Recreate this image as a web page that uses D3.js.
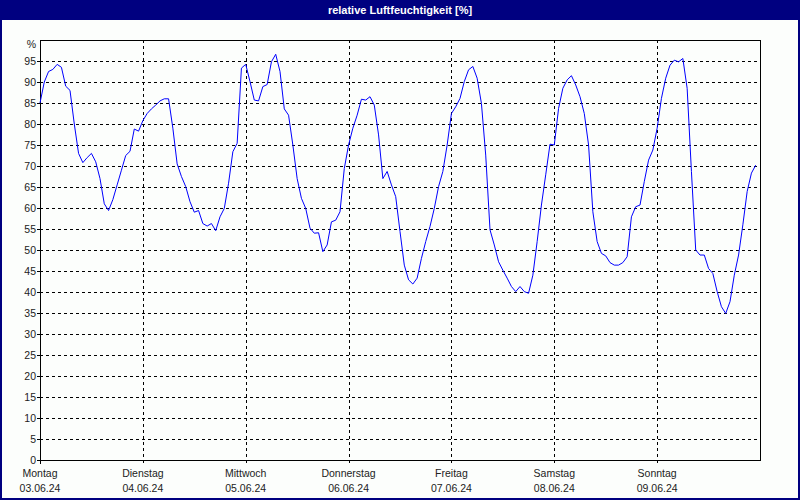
<!DOCTYPE html>
<html><head><meta charset="utf-8">
<script src="https://cdn.jsdelivr.net/npm/d3@7"></script>
<style>
html,body{margin:0;padding:0;background:#fff;}
svg{display:block;}
text{font-family:"Liberation Sans",Arial,sans-serif;}
</style></head>
<body>
<script>
const title = "relative Luftfeuchtigkeit [%]";
const dayNames = ["Montag","Dienstag","Mittwoch","Donnerstag","Freitag","Samstag","Sonntag"];
const dayDates = ["03.06.24","04.06.24","05.06.24","06.06.24","07.06.24","08.06.24","09.06.24"];
const yTicks = d3.range(0, 100, 5);
// hourly values from 03.06.24 00:00
const humidity = [
85,90,92.5,93,94.2,93.5,89,88,80,73,70.8,72,73,71,67,61,59.4,62,65.5,69,72.5,73.5,78.8,78.3,
80.8,82.5,83.6,84.5,85.5,86,86,79,70.5,67.5,65.1,61.5,59,59.4,56.3,55.7,56.3,54.6,57.9,59.9,65.9,73.4,75.4,93.3,
94.2,90.1,85.7,85.5,88.9,89.4,94.8,96.6,92.5,83.6,82.1,75,67,62.3,59.9,55.2,54,54.1,49.6,51.2,56.7,57.1,59.1,69.4,
75,79,82.1,85.9,85.7,86.5,84.5,77.4,67,68.7,65.5,62.7,54.4,46.4,42.9,41.9,43.3,48,52,55.6,59.9,65.1,68.7,75,
82.5,84.1,86.1,90.1,92.9,93.7,90.9,84.9,72.6,54.8,51.2,47.2,45.2,43.3,41.3,40.1,41.3,40.1,39.7,44,52,60.7,67.9,75.2,
75,83.7,88.5,90.5,91.5,89.3,86.5,82.5,75,59.1,52,49.2,48.6,47,46.4,46.4,47,48.4,57.9,60.3,60.7,66.3,71.4,73.8,
79,86.1,90.9,94,95.2,94.8,95.6,88.5,68.7,50,48.8,48.8,45.6,44.4,40.1,36.5,34.9,37.7,44,48.8,56,63.9,68.3,70.2
];

const W = 800, H = 500;
const svg = d3.select("body").append("svg").attr("width", W).attr("height", H);
svg.append("rect").attr("x",0).attr("y",0).attr("width",W).attr("height",H).attr("fill","#000080");
svg.append("rect").attr("x",2).attr("y",20).attr("width",W-4).attr("height",H-22).attr("fill","#fcfefc");
svg.append("text").attr("x",W/2).attr("y",14).attr("text-anchor","middle")
  .attr("fill","#fff").attr("font-size","11px").attr("font-weight","bold").text(title);

const m = {left:40, top:40, right:760, bottom:460};
const x = d3.scaleLinear().domain([0, 7*24]).range([m.left, m.right]);
const y = d3.scaleLinear().domain([0, 100]).range([m.bottom, m.top]);

// horizontal grid
svg.append("g").selectAll("line").data(yTicks.filter(d=>d>0)).join("line")
  .attr("x1", m.left).attr("x2", m.right)
  .attr("y1", d=>Math.round(y(d))+0.5).attr("y2", d=>Math.round(y(d))+0.5)
  .attr("stroke","#000").attr("stroke-dasharray","3,3").attr("shape-rendering","crispEdges");
// vertical grid + ticks
const dayIdx = d3.range(7);
svg.append("g").selectAll("line").data(dayIdx.filter(d=>d>0)).join("line")
  .attr("x1", d=>Math.round(x(d*24))+0.5).attr("x2", d=>Math.round(x(d*24))+0.5)
  .attr("y1", m.top).attr("y2", m.bottom+4)
  .attr("stroke","#000").attr("stroke-dasharray","3,3").attr("shape-rendering","crispEdges");

// frame
svg.append("rect").attr("x", m.left+0.5).attr("y", m.top+0.5)
  .attr("width", m.right-m.left).attr("height", m.bottom-m.top)
  .attr("fill","none").attr("stroke","#000").attr("shape-rendering","crispEdges");

// y axis labels & ticks
const ya = svg.append("g");
ya.selectAll("line").data(yTicks).join("line")
  .attr("x1", m.left-3).attr("x2", m.left)
  .attr("y1", d=>Math.round(y(d))+0.5).attr("y2", d=>Math.round(y(d))+0.5)
  .attr("stroke","#000").attr("shape-rendering","crispEdges");
ya.selectAll("text").data(yTicks).join("text")
  .attr("x", m.left-4).attr("y", d=>y(d)+4)
  .attr("text-anchor","end").attr("font-size","10.5px").attr("fill","#222").text(d=>d);
svg.append("text").attr("x", m.left-4).attr("y", y(100)+8)
  .attr("text-anchor","end").attr("font-size","10.5px").attr("fill","#222").text("%");

// x labels
const xa = svg.append("g");
xa.selectAll("text.day").data(dayIdx).join("text").attr("class","day")
  .attr("x", d=>x(d*24)).attr("y", 477).attr("text-anchor","middle")
  .attr("font-size","10.5px").attr("fill","#222").text(d=>dayNames[d]);
xa.selectAll("text.date").data(dayIdx).join("text").attr("class","date")
  .attr("x", d=>x(d*24)).attr("y", 492).attr("text-anchor","middle")
  .attr("font-size","10.5px").attr("fill","#222").text(d=>dayDates[d]);
xa.append("line").attr("x1", m.left+0.5).attr("x2", m.left+0.5).attr("y1", m.bottom).attr("y2", m.bottom+4)
  .attr("stroke","#000").attr("shape-rendering","crispEdges");

// data line
const line = d3.line().x((d,i)=>x(i)).y(d=>y(d));
svg.append("path").datum(humidity).attr("d", line)
  .attr("fill","none").attr("stroke","#0000ff").attr("stroke-width",1);
</script>
</body></html>
